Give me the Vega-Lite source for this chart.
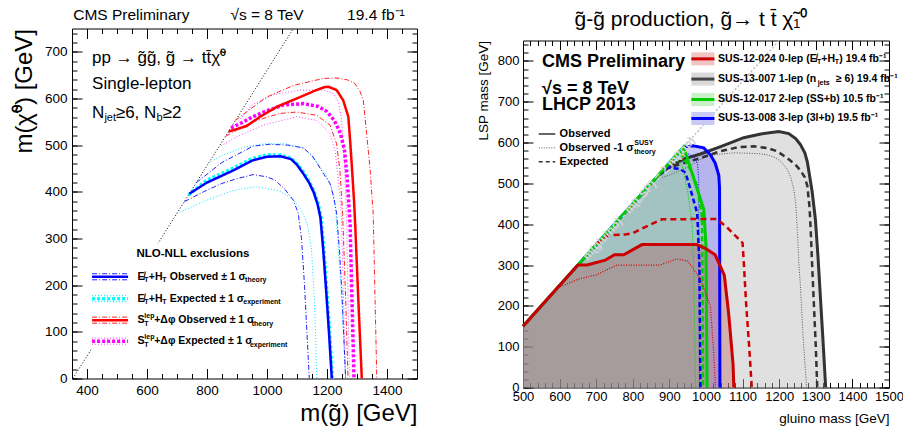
{
  "$schema": "https://vega.github.io/schema/vega-lite/v6.json",
  "padding": {"left": 12, "top": 7.5, "right": 0, "bottom": 0},
  "bounds": "flush",
  "spacing": 106,
  "config": {
    "font": "Liberation Sans",
    "view": {"stroke": "#000", "strokeWidth": 1},
    "axis": {"domain": false, "grid": false, "tickColor": "#000", "tickWidth": 1, "labelColor": "#000", "titleColor": "#000", "labelFlush": false, "labelOverlap": false, "titleFontWeight": "normal", "labelFont": "Liberation Sans", "titleFont": "Liberation Sans", "format": "d"},
    "text": {"color": "#000", "font": "Liberation Sans"}
  },
  "datasets": {
    "one": [{}],
    "lDiag": [{"x":353,"y":0},{"x":1088,"y":750}],
    "lBlueObs": [{"x":741,"y":396},{"x":800,"y":420},{"x":888,"y":446},{"x":950,"y":467},{"x":1000,"y":475},{"x":1045,"y":476},{"x":1080,"y":470},{"x":1100,"y":458},{"x":1120,"y":440},{"x":1140,"y":420},{"x":1155,"y":400},{"x":1168,"y":375},{"x":1178,"y":345},{"x":1187,"y":280},{"x":1197,"y":190},{"x":1207,"y":95},{"x":1216,"y":0}],
    "lCyanExp": [{"x":738,"y":393},{"x":800,"y":425},{"x":888,"y":451},{"x":950,"y":471},{"x":1000,"y":479},{"x":1045,"y":479},{"x":1080,"y":472},{"x":1100,"y":460},{"x":1120,"y":443},{"x":1140,"y":423},{"x":1156,"y":402},{"x":1170,"y":376},{"x":1180,"y":345},{"x":1189,"y":280},{"x":1199,"y":190},{"x":1209,"y":95},{"x":1218,"y":0}],
    "lBlueUp": [{"x":765,"y":420},{"x":850,"y":463},{"x":954,"y":498},{"x":1010,"y":502},{"x":1070,"y":500},{"x":1121,"y":494},{"x":1150,"y":478},{"x":1166,"y":462},{"x":1190,"y":437},{"x":1210,"y":418},{"x":1222,"y":390},{"x":1232,"y":354},{"x":1242,"y":270},{"x":1250,"y":180},{"x":1256,"y":90},{"x":1262,"y":0}],
    "lBlueDn": [{"x":725,"y":379},{"x":788,"y":400},{"x":850,"y":418},{"x":899,"y":428},{"x":954,"y":437},{"x":1000,"y":432},{"x":1027,"y":425},{"x":1060,"y":405},{"x":1088,"y":382},{"x":1104,"y":354},{"x":1115,"y":300},{"x":1125,"y":200},{"x":1133,"y":100},{"x":1141,"y":0}],
    "lCyanUp": [{"x":805,"y":462},{"x":850,"y":478},{"x":920,"y":495},{"x":990,"y":503},{"x":1060,"y":503},{"x":1120,"y":495},{"x":1160,"y":470},{"x":1195,"y":438},{"x":1215,"y":410},{"x":1228,"y":365},{"x":1240,"y":260},{"x":1250,"y":160},{"x":1256,"y":80},{"x":1262,"y":0}],
    "lCyanDn": [{"x":700,"y":354},{"x":799,"y":382},{"x":888,"y":403},{"x":965,"y":411},{"x":1043,"y":402},{"x":1090,"y":382},{"x":1115,"y":360},{"x":1135,"y":330},{"x":1148,"y":280},{"x":1157,"y":180},{"x":1162,"y":90},{"x":1166,"y":0}],
    "lRedObs": [{"x":872,"y":529},{"x":932,"y":541},{"x":977,"y":561},{"x":1032,"y":582},{"x":1110,"y":603},{"x":1160,"y":617},{"x":1190,"y":624},{"x":1205,"y":625},{"x":1232,"y":618},{"x":1254,"y":596},{"x":1271,"y":561},{"x":1277,"y":511},{"x":1283,"y":453},{"x":1290,"y":382},{"x":1294,"y":330},{"x":1304,"y":175},{"x":1316,"y":0}],
    "lRedUp": [{"x":895,"y":553},{"x":950,"y":580},{"x":999,"y":603},{"x":1088,"y":628},{"x":1188,"y":643},{"x":1230,"y":644},{"x":1268,"y":640},{"x":1293,"y":632},{"x":1310,"y":615},{"x":1321,"y":596},{"x":1332,"y":525},{"x":1343,"y":453},{"x":1354,"y":353},{"x":1360,"y":175},{"x":1366,"y":0}],
    "lRedDn": [{"x":862,"y":519},{"x":920,"y":540},{"x":966,"y":553},{"x":1043,"y":568},{"x":1099,"y":571},{"x":1166,"y":564},{"x":1210,"y":543},{"x":1232,"y":503},{"x":1243,"y":446},{"x":1252,"y":354},{"x":1262,"y":175},{"x":1270,"y":0}],
    "lMagExp": [{"x":880,"y":537},{"x":910,"y":546},{"x":950,"y":560},{"x":988,"y":571},{"x":1054,"y":586},{"x":1121,"y":589},{"x":1170,"y":583},{"x":1200,"y":572},{"x":1225,"y":552},{"x":1245,"y":525},{"x":1258,"y":490},{"x":1266,"y":440},{"x":1271,"y":390},{"x":1277,"y":330},{"x":1283,"y":175},{"x":1290,"y":0}],
    "lMagUp": [{"x":865,"y":522},{"x":900,"y":548},{"x":954,"y":588},{"x":1021,"y":608},{"x":1110,"y":618},{"x":1190,"y":618},{"x":1221,"y":611},{"x":1238,"y":592},{"x":1248,"y":561},{"x":1256,"y":489},{"x":1262,"y":400},{"x":1266,"y":330},{"x":1270,"y":175},{"x":1275,"y":0}],
    "lMagDn": [{"x":838,"y":495},{"x":899,"y":518},{"x":988,"y":543},{"x":1099,"y":561},{"x":1166,"y":553},{"x":1210,"y":525},{"x":1227,"y":489},{"x":1238,"y":425},{"x":1248,"y":350},{"x":1255,"y":175},{"x":1262,"y":0}],
    "rGray": [{"x":500,"y":150},{"x":866,"y":516},{"x":900,"y":540},{"x":940,"y":560},{"x":985,"y":572},{"x":1040,"y":590},{"x":1103,"y":612},{"x":1150,"y":621},{"x":1199,"y":627},{"x":1226,"y":622},{"x":1245,"y":610},{"x":1258,"y":595},{"x":1270,"y":575},{"x":1277,"y":552},{"x":1290,"y":480},{"x":1299,"y":411},{"x":1306,"y":320},{"x":1313,"y":215},{"x":1320,"y":110},{"x":1327,"y":0}],
    "rBlue": [{"x":500,"y":150},{"x":939,"y":589},{"x":965,"y":592},{"x":994,"y":587},{"x":1012,"y":570},{"x":1025,"y":550},{"x":1035,"y":520},{"x":1037,"y":490},{"x":1038,"y":0}],
    "rGreen": [{"x":500,"y":150},{"x":939,"y":589},{"x":994,"y":436},{"x":1000,"y":346},{"x":1003,"y":0}],
    "rRed": [{"x":500,"y":150},{"x":650,"y":300},{"x":675,"y":300},{"x":725,"y":312},{"x":750,"y":325},{"x":775,"y":325},{"x":825,"y":350},{"x":975,"y":350},{"x":1000,"y":340},{"x":1025,"y":325},{"x":1050,"y":275},{"x":1062,"y":180},{"x":1074,"y":56},{"x":1076,"y":0}],
    "rDiag": [{"x":860,"y":510},{"x":1200,"y":850}],
    "rBlackExp": [{"x":885,"y":535},{"x":940,"y":550},{"x":985,"y":562},{"x":1040,"y":579},{"x":1090,"y":589},{"x":1131,"y":591},{"x":1170,"y":586},{"x":1194,"y":579},{"x":1222,"y":562},{"x":1245,"y":545},{"x":1258,"y":532},{"x":1270,"y":515},{"x":1277,"y":493},{"x":1283,"y":440},{"x":1286,"y":387},{"x":1290,"y":300},{"x":1295,"y":199},{"x":1300,"y":100},{"x":1304,"y":0}],
    "rBlackDn": [{"x":860,"y":510},{"x":900,"y":520},{"x":950,"y":540},{"x":1003,"y":568},{"x":1076,"y":575},{"x":1140,"y":573},{"x":1167,"y":570},{"x":1190,"y":563},{"x":1204,"y":554},{"x":1220,"y":537},{"x":1231,"y":517},{"x":1240,"y":485},{"x":1245,"y":452},{"x":1250,"y":380},{"x":1254,"y":300},{"x":1258,"y":248},{"x":1265,"y":130},{"x":1270,"y":60},{"x":1275,"y":0}],
    "rBlueExp": [{"x":890,"y":540},{"x":930,"y":535},{"x":944,"y":526},{"x":958,"y":484},{"x":976,"y":427},{"x":982,"y":300},{"x":985,"y":0}],
    "rBlueDn": [{"x":945,"y":575},{"x":968,"y":565},{"x":977,"y":548},{"x":980,"y":509},{"x":981,"y":250},{"x":982,"y":0}],
    "rGreenExp": [{"x":930,"y":575},{"x":960,"y":530},{"x":976,"y":493},{"x":989,"y":419},{"x":990,"y":300},{"x":992,"y":0}],
    "rGreenDn": [{"x":915,"y":565},{"x":935,"y":542},{"x":950,"y":480},{"x":962,"y":400},{"x":966,"y":300},{"x":969,"y":150},{"x":971,"y":0}],
    "rRedExp": [{"x":700,"y":352},{"x":735,"y":373},{"x":780,"y":375},{"x":800,"y":378},{"x":850,"y":400},{"x":880,"y":412},{"x":1030,"y":413},{"x":1060,"y":390},{"x":1100,"y":354},{"x":1103,"y":310},{"x":1110,"y":200},{"x":1118,"y":100},{"x":1125,"y":0}],
    "rRedDn": [{"x":595,"y":245},{"x":611,"y":250},{"x":650,"y":265},{"x":700,"y":276},{"x":757,"y":300},{"x":875,"y":300},{"x":920,"y":315},{"x":950,"y":310},{"x":985,"y":265},{"x":1012,"y":200},{"x":1020,"y":100},{"x":1026,"y":0}]
  },
  "hconcat": [
    {
      "width": 345,
      "height": 350,
      "resolve": {"axis": {"x": "independent", "y": "independent"}},
      "layer": [
        {"data": {"name": "lDiag"}, "mark": {"type": "line", "color": "#000", "strokeWidth": 1, "strokeDash": [1, 2]},
         "encoding": {
           "x": {"field": "x", "type": "quantitative", "scale": {"domain": [350, 1500], "nice": false, "zero": false},
                 "axis": {"orient": "bottom", "values": [400,600,800,1000,1200,1400], "tickSize": -10, "labelPadding": 15, "labelFontSize": 13.5, "title": "m(g̃) [GeV]", "titleFontSize": 24, "titleAnchor": "end", "titlePadding": 4.5}},
           "y": {"field": "y", "type": "quantitative", "scale": {"domain": [0, 750], "nice": false, "zero": false},
                 "axis": {"orient": "left", "values": [0,100,200,300,400,500,600,700], "tickSize": -10, "labelPadding": 15, "labelFontSize": 13.5, "title": "m(χ̃⁰) [GeV]", "titleFontSize": 24, "titleAnchor": "end", "titlePadding": 7.5}}}},
        {"data": {"name": "one"}, "mark": {"type": "rect", "fill": "#fff"},
         "encoding": {"x": {"datum": 405, "axis": null}, "x2": {"datum": 1090}, "y": {"datum": 62, "axis": null}, "y2": {"datum": 290}}},
        {"data": {"name": "lCyanDn"}, "mark": {"type": "line", "color": "#00e5ff", "strokeWidth": 1, "strokeDash": [1, 2]},
         "encoding": {
           "x": {"field": "x", "type": "quantitative", "axis": {"orient": "bottom", "values": [350,400,450,500,550,600,650,700,750,800,850,900,950,1000,1050,1100,1150,1200,1250,1300,1350,1400,1450,1500], "tickSize": -5, "labels": false, "title": null}},
           "y": {"field": "y", "type": "quantitative", "axis": {"orient": "left", "values": [0,20,40,60,80,100,120,140,160,180,200,220,240,260,280,300,320,340,360,380,400,420,440,460,480,500,520,540,560,580,600,620,640,660,680,700,720,740], "tickSize": -5, "labels": false, "title": null}}}},
        {"data": {"name": "lCyanUp"}, "mark": {"type": "line", "color": "#00e5ff", "strokeWidth": 1, "strokeDash": [1, 2]},
         "encoding": {
           "x": {"field": "x", "type": "quantitative", "axis": {"orient": "top", "values": [400,600,800,1000,1200,1400], "tickSize": -10, "labels": false, "title": null}},
           "y": {"field": "y", "type": "quantitative", "axis": {"orient": "right", "values": [0,100,200,300,400,500,600,700], "tickSize": -10, "labels": false, "title": null}}}},
        {"data": {"name": "lMagDn"}, "mark": {"type": "line", "color": "#ff44ff", "strokeWidth": 1, "strokeDash": [1, 2]},
         "encoding": {
           "x": {"field": "x", "type": "quantitative", "axis": {"orient": "top", "values": [350,400,450,500,550,600,650,700,750,800,850,900,950,1000,1050,1100,1150,1200,1250,1300,1350,1400,1450,1500], "tickSize": -5, "labels": false, "title": null}},
           "y": {"field": "y", "type": "quantitative", "axis": {"orient": "right", "values": [0,20,40,60,80,100,120,140,160,180,200,220,240,260,280,300,320,340,360,380,400,420,440,460,480,500,520,540,560,580,600,620,640,660,680,700,720,740], "tickSize": -5, "labels": false, "title": null}}}},
        {"data": {"name": "lMagUp"}, "mark": {"type": "line", "color": "#ff44ff", "strokeWidth": 1, "strokeDash": [1, 2]},
         "encoding": {"x": {"field": "x", "type": "quantitative", "axis": null}, "y": {"field": "y", "type": "quantitative", "axis": null}}},
        {"data": {"name": "lBlueDn"}, "mark": {"type": "line", "color": "#2222ff", "strokeWidth": 1, "strokeDash": [5, 2, 1, 2]},
         "encoding": {"x": {"field": "x", "type": "quantitative", "axis": null}, "y": {"field": "y", "type": "quantitative", "axis": null}}},
        {"data": {"name": "lBlueUp"}, "mark": {"type": "line", "color": "#2222ff", "strokeWidth": 1, "strokeDash": [5, 2, 1, 2]},
         "encoding": {"x": {"field": "x", "type": "quantitative", "axis": null}, "y": {"field": "y", "type": "quantitative", "axis": null}}},
        {"data": {"name": "lRedDn"}, "mark": {"type": "line", "color": "#ff2222", "strokeWidth": 1, "strokeDash": [5, 2, 1, 2]},
         "encoding": {"x": {"field": "x", "type": "quantitative", "axis": null}, "y": {"field": "y", "type": "quantitative", "axis": null}}},
        {"data": {"name": "lRedUp"}, "mark": {"type": "line", "color": "#ff2222", "strokeWidth": 1, "strokeDash": [5, 2, 1, 2]},
         "encoding": {"x": {"field": "x", "type": "quantitative", "axis": null}, "y": {"field": "y", "type": "quantitative", "axis": null}}},
        {"data": {"name": "lCyanExp"}, "mark": {"type": "line", "color": "#00ffff", "strokeWidth": 3.5, "strokeDash": [3, 2]},
         "encoding": {"x": {"field": "x", "type": "quantitative", "axis": null}, "y": {"field": "y", "type": "quantitative", "axis": null}}},
        {"data": {"name": "lMagExp"}, "mark": {"type": "line", "color": "#ff00ff", "strokeWidth": 3.5, "strokeDash": [3, 2]},
         "encoding": {"x": {"field": "x", "type": "quantitative", "axis": null}, "y": {"field": "y", "type": "quantitative", "axis": null}}},
        {"data": {"name": "lBlueObs"}, "mark": {"type": "line", "color": "#0000ff", "strokeWidth": 2.5},
         "encoding": {"x": {"field": "x", "type": "quantitative", "axis": null}, "y": {"field": "y", "type": "quantitative", "axis": null}}},
        {"data": {"name": "lRedObs"}, "mark": {"type": "line", "color": "#ff0000", "strokeWidth": 2.5},
         "encoding": {"x": {"field": "x", "type": "quantitative", "axis": null}, "y": {"field": "y", "type": "quantitative", "axis": null}}},

        {"data": {"name": "one"}, "mark": {"type": "text", "text": "CMS Preliminary", "align": "left", "baseline": "middle", "fontSize": 15.5},
         "encoding": {"x": {"datum": 354, "axis": null}, "y": {"datum": 778, "axis": null}}},
        {"data": {"name": "one"}, "mark": {"type": "text", "text": "√s = 8 TeV", "align": "left", "baseline": "middle", "fontSize": 15.5},
         "encoding": {"x": {"datum": 878, "axis": null}, "y": {"datum": 778, "axis": null}}},
        {"data": {"name": "one"}, "mark": {"type": "text", "text": "19.4 fb⁻¹", "align": "left", "baseline": "middle", "fontSize": 15.5},
         "encoding": {"x": {"datum": 1267, "axis": null}, "y": {"datum": 778, "axis": null}}},
        {"data": {"name": "one"}, "mark": {"type": "text", "text": "pp → g̃g̃, g̃ → tt̄χ̃⁰", "align": "left", "baseline": "middle", "fontSize": 17},
         "encoding": {"x": {"datum": 417, "axis": null}, "y": {"datum": 687, "axis": null}}},
        {"data": {"name": "one"}, "mark": {"type": "text", "text": "Single-lepton", "align": "left", "baseline": "middle", "fontSize": 17},
         "encoding": {"x": {"datum": 417, "axis": null}, "y": {"datum": 632, "axis": null}}},
        {"data": {"name": "one"}, "mark": {"type": "text", "text": "N", "align": "left", "baseline": "middle", "fontSize": 17},
         "encoding": {"x": {"datum": 417, "axis": null}, "y": {"datum": 568, "axis": null}}},
        {"data": {"name": "one"}, "mark": {"type": "text", "text": "jet", "align": "left", "baseline": "middle", "fontSize": 11, "dy": 5},
         "encoding": {"x": {"datum": 458, "axis": null}, "y": {"datum": 568, "axis": null}}},
        {"data": {"name": "one"}, "mark": {"type": "text", "text": "≥6, N", "align": "left", "baseline": "middle", "fontSize": 17},
         "encoding": {"x": {"datum": 496, "axis": null}, "y": {"datum": 568, "axis": null}}},
        {"data": {"name": "one"}, "mark": {"type": "text", "text": "b", "align": "left", "baseline": "middle", "fontSize": 11, "dy": 5},
         "encoding": {"x": {"datum": 632, "axis": null}, "y": {"datum": 568, "axis": null}}},
        {"data": {"name": "one"}, "mark": {"type": "text", "text": "≥2", "align": "left", "baseline": "middle", "fontSize": 17},
         "encoding": {"x": {"datum": 652, "axis": null}, "y": {"datum": 568, "axis": null}}},

        {"data": {"name": "one"}, "mark": {"type": "text", "text": "NLO-NLL exclusions", "align": "left", "baseline": "middle", "fontSize": 11.5, "fontWeight": "bold"},
         "encoding": {"x": {"datum": 565, "axis": null}, "y": {"datum": 266, "axis": null}}},

        {"data": {"name": "one"}, "mark": {"type": "rule", "color": "#2222ff", "strokeWidth": 1, "strokeDash": [5, 2, 1, 2]},
         "encoding": {"x": {"datum": 417, "axis": null}, "x2": {"datum": 537}, "y": {"datum": 224.5, "axis": null}}},
        {"data": {"name": "one"}, "mark": {"type": "rule", "color": "#2222ff", "strokeWidth": 1, "strokeDash": [5, 2, 1, 2]},
         "encoding": {"x": {"datum": 417, "axis": null}, "x2": {"datum": 537}, "y": {"datum": 211.5, "axis": null}}},
        {"data": {"name": "one"}, "mark": {"type": "rule", "color": "#0000ff", "strokeWidth": 2.5},
         "encoding": {"x": {"datum": 417, "axis": null}, "x2": {"datum": 537}, "y": {"datum": 218, "axis": null}}},
        {"data": {"name": "one"}, "mark": {"type": "rule", "color": "#00e5ff", "strokeWidth": 1, "strokeDash": [1, 2]},
         "encoding": {"x": {"datum": 417, "axis": null}, "x2": {"datum": 537}, "y": {"datum": 177.5, "axis": null}}},
        {"data": {"name": "one"}, "mark": {"type": "rule", "color": "#00e5ff", "strokeWidth": 1, "strokeDash": [1, 2]},
         "encoding": {"x": {"datum": 417, "axis": null}, "x2": {"datum": 537}, "y": {"datum": 164.5, "axis": null}}},
        {"data": {"name": "one"}, "mark": {"type": "rule", "color": "#00ffff", "strokeWidth": 3.5, "strokeDash": [3, 2]},
         "encoding": {"x": {"datum": 417, "axis": null}, "x2": {"datum": 537}, "y": {"datum": 171, "axis": null}}},
        {"data": {"name": "one"}, "mark": {"type": "rule", "color": "#ff2222", "strokeWidth": 1, "strokeDash": [5, 2, 1, 2]},
         "encoding": {"x": {"datum": 417, "axis": null}, "x2": {"datum": 537}, "y": {"datum": 131.5, "axis": null}}},
        {"data": {"name": "one"}, "mark": {"type": "rule", "color": "#ff2222", "strokeWidth": 1, "strokeDash": [5, 2, 1, 2]},
         "encoding": {"x": {"datum": 417, "axis": null}, "x2": {"datum": 537}, "y": {"datum": 118.5, "axis": null}}},
        {"data": {"name": "one"}, "mark": {"type": "rule", "color": "#ff0000", "strokeWidth": 2.5},
         "encoding": {"x": {"datum": 417, "axis": null}, "x2": {"datum": 537}, "y": {"datum": 125, "axis": null}}},
        {"data": {"name": "one"}, "mark": {"type": "rule", "color": "#ff44ff", "strokeWidth": 1, "strokeDash": [1, 2]},
         "encoding": {"x": {"datum": 417, "axis": null}, "x2": {"datum": 537}, "y": {"datum": 86.5, "axis": null}}},
        {"data": {"name": "one"}, "mark": {"type": "rule", "color": "#ff44ff", "strokeWidth": 1, "strokeDash": [1, 2]},
         "encoding": {"x": {"datum": 417, "axis": null}, "x2": {"datum": 537}, "y": {"datum": 73.5, "axis": null}}},
        {"data": {"name": "one"}, "mark": {"type": "rule", "color": "#ff00ff", "strokeWidth": 3.5, "strokeDash": [3, 2]},
         "encoding": {"x": {"datum": 417, "axis": null}, "x2": {"datum": 537}, "y": {"datum": 80, "axis": null}}},

        {"data": {"name": "one"}, "mark": {"type": "text", "text": "E̸", "align": "left", "baseline": "middle", "fontSize": 10.5, "fontWeight": "bold"},
         "encoding": {"x": {"datum": 568, "axis": null}, "y": {"datum": 218, "axis": null}}},
        {"data": {"name": "one"}, "mark": {"type": "text", "text": "T", "align": "left", "baseline": "middle", "fontSize": 7, "fontWeight": "bold", "dy": 3.5},
         "encoding": {"x": {"datum": 591, "axis": null}, "y": {"datum": 218, "axis": null}}},
        {"data": {"name": "one"}, "mark": {"type": "text", "text": "+H", "align": "left", "baseline": "middle", "fontSize": 10.5, "fontWeight": "bold"},
         "encoding": {"x": {"datum": 606, "axis": null}, "y": {"datum": 218, "axis": null}}},
        {"data": {"name": "one"}, "mark": {"type": "text", "text": "T", "align": "left", "baseline": "middle", "fontSize": 7, "fontWeight": "bold", "dy": 3.5},
         "encoding": {"x": {"datum": 651, "axis": null}, "y": {"datum": 218, "axis": null}}},
        {"data": {"name": "one"}, "mark": {"type": "text", "text": "Observed ± 1 σ", "align": "left", "baseline": "middle", "fontSize": 10.5, "fontWeight": "bold"},
         "encoding": {"x": {"datum": 676, "axis": null}, "y": {"datum": 218, "axis": null}}},
        {"data": {"name": "one"}, "mark": {"type": "text", "text": "theory", "align": "left", "baseline": "middle", "fontSize": 7, "fontWeight": "bold", "dy": 3.5},
         "encoding": {"x": {"datum": 927, "axis": null}, "y": {"datum": 218, "axis": null}}},

        {"data": {"name": "one"}, "mark": {"type": "text", "text": "E̸", "align": "left", "baseline": "middle", "fontSize": 10.5, "fontWeight": "bold"},
         "encoding": {"x": {"datum": 568, "axis": null}, "y": {"datum": 171, "axis": null}}},
        {"data": {"name": "one"}, "mark": {"type": "text", "text": "T", "align": "left", "baseline": "middle", "fontSize": 7, "fontWeight": "bold", "dy": 3.5},
         "encoding": {"x": {"datum": 591, "axis": null}, "y": {"datum": 171, "axis": null}}},
        {"data": {"name": "one"}, "mark": {"type": "text", "text": "+H", "align": "left", "baseline": "middle", "fontSize": 10.5, "fontWeight": "bold"},
         "encoding": {"x": {"datum": 606, "axis": null}, "y": {"datum": 171, "axis": null}}},
        {"data": {"name": "one"}, "mark": {"type": "text", "text": "T", "align": "left", "baseline": "middle", "fontSize": 7, "fontWeight": "bold", "dy": 3.5},
         "encoding": {"x": {"datum": 651, "axis": null}, "y": {"datum": 171, "axis": null}}},
        {"data": {"name": "one"}, "mark": {"type": "text", "text": "Expected ± 1 σ", "align": "left", "baseline": "middle", "fontSize": 10.5, "fontWeight": "bold"},
         "encoding": {"x": {"datum": 676, "axis": null}, "y": {"datum": 171, "axis": null}}},
        {"data": {"name": "one"}, "mark": {"type": "text", "text": "experiment", "align": "left", "baseline": "middle", "fontSize": 7, "fontWeight": "bold", "dy": 3.5},
         "encoding": {"x": {"datum": 921, "axis": null}, "y": {"datum": 171, "axis": null}}},

        {"data": {"name": "one"}, "mark": {"type": "text", "text": "S", "align": "left", "baseline": "middle", "fontSize": 10.5, "fontWeight": "bold"},
         "encoding": {"x": {"datum": 568, "axis": null}, "y": {"datum": 125, "axis": null}}},
        {"data": {"name": "one"}, "mark": {"type": "text", "text": "lep", "align": "left", "baseline": "middle", "fontSize": 7, "fontWeight": "bold", "dy": -4.5},
         "encoding": {"x": {"datum": 591, "axis": null}, "y": {"datum": 125, "axis": null}}},
        {"data": {"name": "one"}, "mark": {"type": "text", "text": "T", "align": "left", "baseline": "middle", "fontSize": 7, "fontWeight": "bold", "dy": 3.5},
         "encoding": {"x": {"datum": 591, "axis": null}, "y": {"datum": 125, "axis": null}}},
        {"data": {"name": "one"}, "mark": {"type": "text", "text": "+Δφ Observed ± 1 σ", "align": "left", "baseline": "middle", "fontSize": 10.5, "fontWeight": "bold"},
         "encoding": {"x": {"datum": 624, "axis": null}, "y": {"datum": 125, "axis": null}}},
        {"data": {"name": "one"}, "mark": {"type": "text", "text": "theory", "align": "left", "baseline": "middle", "fontSize": 7, "fontWeight": "bold", "dy": 3.5},
         "encoding": {"x": {"datum": 949, "axis": null}, "y": {"datum": 125, "axis": null}}},

        {"data": {"name": "one"}, "mark": {"type": "text", "text": "S", "align": "left", "baseline": "middle", "fontSize": 10.5, "fontWeight": "bold"},
         "encoding": {"x": {"datum": 568, "axis": null}, "y": {"datum": 80, "axis": null}}},
        {"data": {"name": "one"}, "mark": {"type": "text", "text": "lep", "align": "left", "baseline": "middle", "fontSize": 7, "fontWeight": "bold", "dy": -4.5},
         "encoding": {"x": {"datum": 591, "axis": null}, "y": {"datum": 80, "axis": null}}},
        {"data": {"name": "one"}, "mark": {"type": "text", "text": "T", "align": "left", "baseline": "middle", "fontSize": 7, "fontWeight": "bold", "dy": 3.5},
         "encoding": {"x": {"datum": 591, "axis": null}, "y": {"datum": 80, "axis": null}}},
        {"data": {"name": "one"}, "mark": {"type": "text", "text": "+Δφ Expected ± 1 σ", "align": "left", "baseline": "middle", "fontSize": 10.5, "fontWeight": "bold"},
         "encoding": {"x": {"datum": 624, "axis": null}, "y": {"datum": 80, "axis": null}}},
        {"data": {"name": "one"}, "mark": {"type": "text", "text": "experiment", "align": "left", "baseline": "middle", "fontSize": 7, "fontWeight": "bold", "dy": 3.5},
         "encoding": {"x": {"datum": 943, "axis": null}, "y": {"datum": 80, "axis": null}}}
      ]
    },
    {
      "width": 366,
      "height": 359,
      "view": {"stroke": null},
      "title": {"text": "g̃-g̃ production,  g̃→ t t̄ χ̃₁⁰", "fontSize": 21, "fontWeight": "normal", "font": "Liberation Sans", "color": "#000", "anchor": "middle", "baseline": "alphabetic", "offset": -18, "dx": -15},
      "resolve": {"axis": {"x": "independent", "y": "independent"}},
      "layer": [
        {"data": {"name": "rGray"}, "mark": {"type": "area", "fill": "#bbbbbb", "fillOpacity": 0.45},
         "encoding": {
           "x": {"field": "x", "type": "quantitative", "scale": {"domain": [500, 1500], "nice": false, "zero": false},
                 "axis": {"orient": "bottom", "domain": true, "domainColor": "#000", "values": [500,600,700,800,900,1000,1100,1200,1300,1400,1500], "tickSize": -9, "labelPadding": 12, "labelFontSize": 13, "title": "gluino mass [GeV]", "titleFontSize": 13.5, "titleAnchor": "end", "titlePadding": 8}},
           "y": {"field": "y", "type": "quantitative", "scale": {"domain": [0, 850], "range": [359, 12], "nice": false, "zero": false},
                 "axis": {"orient": "left", "domain": true, "domainColor": "#000", "values": [0,100,200,300,400,500,600,700,800], "tickSize": -10, "labelPadding": 14, "labelFontSize": 13, "title": "LSP mass [GeV]", "titleFontSize": 13.5, "titleAnchor": "end", "titlePadding": 7}}}},
        {"data": {"name": "rBlue"}, "mark": {"type": "area", "fill": "#6464ff", "fillOpacity": 0.35},
         "encoding": {
           "x": {"field": "x", "type": "quantitative", "axis": {"orient": "bottom", "values": [500,520,540,560,580,600,620,640,660,680,700,720,740,760,780,800,820,840,860,880,900,920,940,960,980,1000,1020,1040,1060,1080,1100,1120,1140,1160,1180,1200,1220,1240,1260,1280,1300,1320,1340,1360,1380,1400,1420,1440,1460,1480,1500], "tickSize": -5, "labels": false, "title": null}},
           "y": {"field": "y", "type": "quantitative", "axis": {"orient": "left", "values": [0,20,40,60,80,100,120,140,160,180,200,220,240,260,280,300,320,340,360,380,400,420,440,460,480,500,520,540,560,580,600,620,640,660,680,700,720,740,760,780,800,820,840], "tickSize": -5, "labels": false, "title": null}}}},
        {"data": {"name": "rGreen"}, "mark": {"type": "area", "fill": "#79e466", "fillOpacity": 0.3},
         "encoding": {
           "x": {"field": "x", "type": "quantitative", "axis": {"orient": "top", "offset": -12, "domain": true, "domainColor": "#000", "values": [500,600,700,800,900,1000,1100,1200,1300,1400,1500], "tickSize": -9, "labels": false, "title": null}},
           "y": {"field": "y", "type": "quantitative", "axis": {"orient": "right", "domain": true, "domainColor": "#000", "values": [0,100,200,300,400,500,600,700,800], "tickSize": -10, "labels": false, "title": null}}}},
        {"data": {"name": "rRed"}, "mark": {"type": "area", "fill": "#b44141", "fillOpacity": 0.3},
         "encoding": {
           "x": {"field": "x", "type": "quantitative", "axis": {"orient": "top", "offset": -12, "values": [500,520,540,560,580,600,620,640,660,680,700,720,740,760,780,800,820,840,860,880,900,920,940,960,980,1000,1020,1040,1060,1080,1100,1120,1140,1160,1180,1200,1220,1240,1260,1280,1300,1320,1340,1360,1380,1400,1420,1440,1460,1480,1500], "tickSize": -5, "labels": false, "title": null}},
           "y": {"field": "y", "type": "quantitative", "axis": {"orient": "right", "values": [0,20,40,60,80,100,120,140,160,180,200,220,240,260,280,300,320,340,360,380,400,420,440,460,480,500,520,540,560,580,600,620,640,660,680,700,720,740,760,780,800,820,840], "tickSize": -5, "labels": false, "title": null}}}},
        {"data": {"name": "rDiag"}, "mark": {"type": "line", "color": "#c0c0c0", "strokeWidth": 1.5, "strokeDash": [2, 2]},
         "encoding": {"x": {"field": "x", "type": "quantitative", "axis": null}, "y": {"field": "y", "type": "quantitative", "axis": null}}},
        {"data": {"name": "rBlackDn"}, "mark": {"type": "line", "color": "#555", "strokeWidth": 1, "strokeDash": [1, 1.5]},
         "encoding": {"x": {"field": "x", "type": "quantitative", "axis": null}, "y": {"field": "y", "type": "quantitative", "axis": null}}},
        {"data": {"name": "rBlackExp"}, "mark": {"type": "line", "color": "#333", "strokeWidth": 2.5, "strokeDash": [6, 4]},
         "encoding": {"x": {"field": "x", "type": "quantitative", "axis": null}, "y": {"field": "y", "type": "quantitative", "axis": null}}},
        {"data": {"name": "rGray"}, "transform": [{"filter": "datum.x >= 866"}], "mark": {"type": "line", "color": "#333", "strokeWidth": 3},
         "encoding": {"x": {"field": "x", "type": "quantitative", "axis": null}, "y": {"field": "y", "type": "quantitative", "axis": null}}},
        {"data": {"name": "rBlueDn"}, "mark": {"type": "line", "color": "#0000ff", "strokeWidth": 1, "strokeDash": [1, 1.5]},
         "encoding": {"x": {"field": "x", "type": "quantitative", "axis": null}, "y": {"field": "y", "type": "quantitative", "axis": null}}},
        {"data": {"name": "rBlueExp"}, "mark": {"type": "line", "color": "#0000ff", "strokeWidth": 2.5, "strokeDash": [5, 3]},
         "encoding": {"x": {"field": "x", "type": "quantitative", "axis": null}, "y": {"field": "y", "type": "quantitative", "axis": null}}},
        {"data": {"name": "rBlue"}, "mark": {"type": "line", "color": "#0000ff", "strokeWidth": 3},
         "encoding": {"x": {"field": "x", "type": "quantitative", "axis": null}, "y": {"field": "y", "type": "quantitative", "axis": null}}},
        {"data": {"name": "rGreenDn"}, "mark": {"type": "line", "color": "#00cc00", "strokeWidth": 1, "strokeDash": [1, 1.5]},
         "encoding": {"x": {"field": "x", "type": "quantitative", "axis": null}, "y": {"field": "y", "type": "quantitative", "axis": null}}},
        {"data": {"name": "rGreenExp"}, "mark": {"type": "line", "color": "#00cc00", "strokeWidth": 2.5, "strokeDash": [5, 3]},
         "encoding": {"x": {"field": "x", "type": "quantitative", "axis": null}, "y": {"field": "y", "type": "quantitative", "axis": null}}},
        {"data": {"name": "rGreen"}, "mark": {"type": "line", "color": "#00cc00", "strokeWidth": 3},
         "encoding": {"x": {"field": "x", "type": "quantitative", "axis": null}, "y": {"field": "y", "type": "quantitative", "axis": null}}},
        {"data": {"name": "rRedDn"}, "mark": {"type": "line", "color": "#cc0000", "strokeWidth": 1.2, "strokeDash": [1, 1.5]},
         "encoding": {"x": {"field": "x", "type": "quantitative", "axis": null}, "y": {"field": "y", "type": "quantitative", "axis": null}}},
        {"data": {"name": "rRedExp"}, "mark": {"type": "line", "color": "#cc0000", "strokeWidth": 2.5, "strokeDash": [6, 4]},
         "encoding": {"x": {"field": "x", "type": "quantitative", "axis": null}, "y": {"field": "y", "type": "quantitative", "axis": null}}},
        {"data": {"name": "rRed"}, "mark": {"type": "line", "color": "#cc0000", "strokeWidth": 3},
         "encoding": {"x": {"field": "x", "type": "quantitative", "axis": null}, "y": {"field": "y", "type": "quantitative", "axis": null}}},

        {"data": {"name": "one"}, "mark": {"type": "text", "text": "m(gluino) - m(LSP) = 2 m(top)", "align": "center", "baseline": "middle", "fontSize": 11.5, "fontWeight": "bold", "color": "#d6d6d6", "angle": -48},
         "encoding": {"x": {"datum": 818, "axis": null}, "y": {"datum": 462, "axis": null}}},

        {"data": {"name": "one"}, "mark": {"type": "text", "text": "CMS Preliminary", "align": "left", "baseline": "middle", "fontSize": 18, "fontWeight": "bold"},
         "encoding": {"x": {"datum": 552, "axis": null}, "y": {"datum": 797, "axis": null}}},
        {"data": {"name": "one"}, "mark": {"type": "text", "text": "√s = 8 TeV", "align": "left", "baseline": "middle", "fontSize": 18, "fontWeight": "bold"},
         "encoding": {"x": {"datum": 552, "axis": null}, "y": {"datum": 732, "axis": null}}},
        {"data": {"name": "one"}, "mark": {"type": "text", "text": "LHCP 2013", "align": "left", "baseline": "middle", "fontSize": 18, "fontWeight": "bold"},
         "encoding": {"x": {"datum": 552, "axis": null}, "y": {"datum": 691, "axis": null}}},

        {"data": {"name": "one"}, "mark": {"type": "rule", "color": "#333", "strokeWidth": 1.5},
         "encoding": {"x": {"datum": 543, "axis": null}, "x2": {"datum": 588}, "y": {"datum": 621, "axis": null}}},
        {"data": {"name": "one"}, "mark": {"type": "rule", "color": "#555", "strokeWidth": 1, "strokeDash": [1, 1.5]},
         "encoding": {"x": {"datum": 543, "axis": null}, "x2": {"datum": 588}, "y": {"datum": 587, "axis": null}}},
        {"data": {"name": "one"}, "mark": {"type": "rule", "color": "#333", "strokeWidth": 1.5, "strokeDash": [4, 3]},
         "encoding": {"x": {"datum": 543, "axis": null}, "x2": {"datum": 588}, "y": {"datum": 553, "axis": null}}},
        {"data": {"name": "one"}, "mark": {"type": "text", "text": "Observed", "align": "left", "baseline": "middle", "fontSize": 11, "fontWeight": "bold"},
         "encoding": {"x": {"datum": 600, "axis": null}, "y": {"datum": 621, "axis": null}}},
        {"data": {"name": "one"}, "mark": {"type": "text", "text": "Observed -1 σ", "align": "left", "baseline": "middle", "fontSize": 11, "fontWeight": "bold"},
         "encoding": {"x": {"datum": 600, "axis": null}, "y": {"datum": 587, "axis": null}}},
        {"data": {"name": "one"}, "mark": {"type": "text", "text": "SUSY", "align": "left", "baseline": "middle", "fontSize": 7, "fontWeight": "bold", "dy": -5},
         "encoding": {"x": {"datum": 804, "axis": null}, "y": {"datum": 587, "axis": null}}},
        {"data": {"name": "one"}, "mark": {"type": "text", "text": "theory", "align": "left", "baseline": "middle", "fontSize": 7, "fontWeight": "bold", "dy": 4.5},
         "encoding": {"x": {"datum": 804, "axis": null}, "y": {"datum": 587, "axis": null}}},
        {"data": {"name": "one"}, "mark": {"type": "text", "text": "Expected", "align": "left", "baseline": "middle", "fontSize": 11, "fontWeight": "bold"},
         "encoding": {"x": {"datum": 600, "axis": null}, "y": {"datum": 553, "axis": null}}},

        {"data": {"name": "one"}, "mark": {"type": "rect", "fill": "#f2c4c4"},
         "encoding": {"x": {"datum": 960, "axis": null}, "x2": {"datum": 1023}, "y": {"datum": 789, "axis": null}, "y2": {"datum": 821}}},
        {"data": {"name": "one"}, "mark": {"type": "rect", "fill": "#d9d9d9"},
         "encoding": {"x": {"datum": 960, "axis": null}, "x2": {"datum": 1023}, "y": {"datum": 739.5, "axis": null}, "y2": {"datum": 771.5}}},
        {"data": {"name": "one"}, "mark": {"type": "rect", "fill": "#c9f0c9"},
         "encoding": {"x": {"datum": 960, "axis": null}, "x2": {"datum": 1023}, "y": {"datum": 689.5, "axis": null}, "y2": {"datum": 721.5}}},
        {"data": {"name": "one"}, "mark": {"type": "rect", "fill": "#c9c9f5"},
         "encoding": {"x": {"datum": 960, "axis": null}, "x2": {"datum": 1023}, "y": {"datum": 643, "axis": null}, "y2": {"datum": 675}}},
        {"data": {"name": "one"}, "mark": {"type": "rule", "color": "#cc0000", "strokeWidth": 3},
         "encoding": {"x": {"datum": 960, "axis": null}, "x2": {"datum": 1023}, "y": {"datum": 805, "axis": null}}},
        {"data": {"name": "one"}, "mark": {"type": "rule", "color": "#444", "strokeWidth": 3},
         "encoding": {"x": {"datum": 960, "axis": null}, "x2": {"datum": 1023}, "y": {"datum": 755.5, "axis": null}}},
        {"data": {"name": "one"}, "mark": {"type": "rule", "color": "#00cc00", "strokeWidth": 3},
         "encoding": {"x": {"datum": 960, "axis": null}, "x2": {"datum": 1023}, "y": {"datum": 705.5, "axis": null}}},
        {"data": {"name": "one"}, "mark": {"type": "rule", "color": "#0000ff", "strokeWidth": 3},
         "encoding": {"x": {"datum": 960, "axis": null}, "x2": {"datum": 1023}, "y": {"datum": 659, "axis": null}}},

        {"data": {"name": "one"}, "mark": {"type": "text", "text": "SUS-12-024 0-lep (E̸", "align": "left", "baseline": "middle", "fontSize": 10.5, "fontWeight": "bold"},
         "encoding": {"x": {"datum": 1033, "axis": null}, "y": {"datum": 805, "axis": null}}},
        {"data": {"name": "one"}, "mark": {"type": "text", "text": "T", "align": "left", "baseline": "middle", "fontSize": 7, "fontWeight": "bold", "dy": 3.5},
         "encoding": {"x": {"datum": 1303, "axis": null}, "y": {"datum": 805, "axis": null}}},
        {"data": {"name": "one"}, "mark": {"type": "text", "text": "+H", "align": "left", "baseline": "middle", "fontSize": 10.5, "fontWeight": "bold"},
         "encoding": {"x": {"datum": 1315, "axis": null}, "y": {"datum": 805, "axis": null}}},
        {"data": {"name": "one"}, "mark": {"type": "text", "text": "T", "align": "left", "baseline": "middle", "fontSize": 7, "fontWeight": "bold", "dy": 3.5},
         "encoding": {"x": {"datum": 1352, "axis": null}, "y": {"datum": 805, "axis": null}}},
        {"data": {"name": "one"}, "mark": {"type": "text", "text": ") 19.4 fb⁻¹", "align": "left", "baseline": "middle", "fontSize": 10.5, "fontWeight": "bold"},
         "encoding": {"x": {"datum": 1364, "axis": null}, "y": {"datum": 805, "axis": null}}},
        {"data": {"name": "one"}, "mark": {"type": "text", "text": "SUS-13-007 1-lep (n", "align": "left", "baseline": "middle", "fontSize": 10.5, "fontWeight": "bold"},
         "encoding": {"x": {"datum": 1033, "axis": null}, "y": {"datum": 755.5, "axis": null}}},
        {"data": {"name": "one"}, "mark": {"type": "text", "text": "jets", "align": "left", "baseline": "middle", "fontSize": 7, "fontWeight": "bold", "dy": 4},
         "encoding": {"x": {"datum": 1305, "axis": null}, "y": {"datum": 755.5, "axis": null}}},
        {"data": {"name": "one"}, "mark": {"type": "text", "text": "≥ 6) 19.4 fb⁻¹", "align": "left", "baseline": "middle", "fontSize": 10.5, "fontWeight": "bold"},
         "encoding": {"x": {"datum": 1355, "axis": null}, "y": {"datum": 755.5, "axis": null}}},
        {"data": {"name": "one"}, "mark": {"type": "text", "text": "SUS-12-017 2-lep (SS+b) 10.5 fb⁻¹", "align": "left", "baseline": "middle", "fontSize": 10.5, "fontWeight": "bold"},
         "encoding": {"x": {"datum": 1033, "axis": null}, "y": {"datum": 705.5, "axis": null}}},
        {"data": {"name": "one"}, "mark": {"type": "text", "text": "SUS-13-008 3-lep (3l+b) 19.5 fb⁻¹", "align": "left", "baseline": "middle", "fontSize": 10.5, "fontWeight": "bold"},
         "encoding": {"x": {"datum": 1033, "axis": null}, "y": {"datum": 659, "axis": null}}}
      ]
    }
  ]
}
